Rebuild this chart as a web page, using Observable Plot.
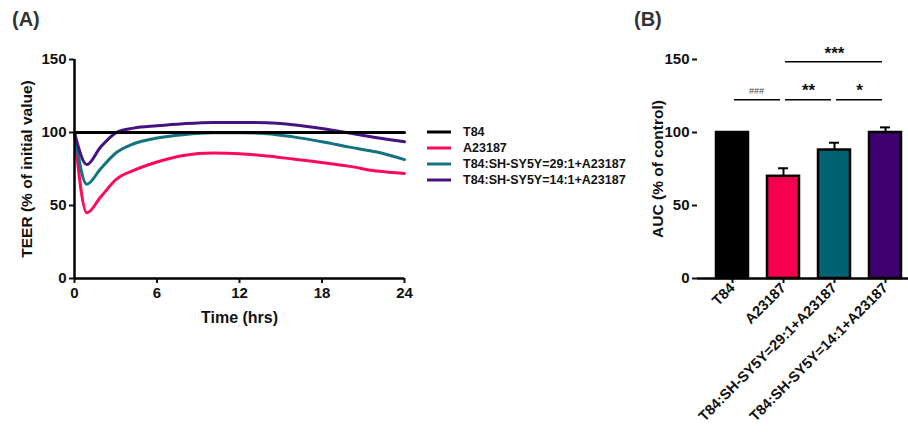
<!DOCTYPE html>
<html><head><meta charset="utf-8">
<script src="https://cdn.jsdelivr.net/npm/d3@7"></script>
<script src="https://cdn.jsdelivr.net/npm/@observablehq/plot@0.6"></script>
<style>
html,body{margin:0;padding:0;background:#fff;}
#wrap{position:relative;width:908px;height:435px;overflow:hidden;font-family:"Liberation Sans",Arial,sans-serif;}
.panel{position:absolute;font-size:20px;font-weight:bold;color:#333;}
#plotA{position:absolute;left:0;top:0;}
#plotB{position:absolute;left:600px;top:0;}
#legend{position:absolute;left:427px;top:124px;font-size:12.5px;font-weight:bold;color:#111;}
#legend div{height:16px;display:flex;align-items:center;}
#legend svg{margin-right:12px;}
</style>
</head><body>
<div id="wrap">
  <div class="panel" style="left:12px;top:8px">(A)</div>
  <div class="panel" style="left:634px;top:8px">(B)</div>
  <div id="plotA"></div>
  <div id="legend"></div>
  <div id="plotB"></div>
</div>
<script>
// ---- Panel A data ----
const seriesNames = ["T84", "A23187", "T84:SH-SY5Y=29:1+A23187", "T84:SH-SY5Y=14:1+A23187"];
const seriesColors = ["#000000", "#ff0a5a", "#137480", "#46127f"];
const time = [0, 0.9, 1.9, 3.1, 4.3, 6, 7.9, 10.1, 12, 14, 15.9, 18.1, 20, 22, 24];
const teerT84 = [100, 100, 100, 100, 100, 100, 100, 100, 100, 100, 100, 100, 100, 100, 100];
const teerA23187 = [100, 45, 55.8, 68.4, 74, 79.8, 84.3, 85.9, 85.5, 83.9, 81.8, 79.3, 76.8, 73.6, 72];
const teer29 = [100, 64.5, 75.2, 86.6, 92.3, 96.2, 98.5, 99.8, 99.8, 99.2, 97, 93.5, 90, 86.6, 81.4];
const teer14 = [100, 78, 90, 100.3, 103, 104.6, 106, 106.9, 106.9, 106.7, 105.3, 102.6, 99.6, 96.4, 93.7];
const xTicksA = [0, 6, 12, 18, 24];
const yTicks = [0, 50, 100, 150];

// ---- Panel B data ----
const groups = ["T84", "A23187", "T84:SH-SY5Y=29:1+A23187", "T84:SH-SY5Y=14:1+A23187"];
const auc = [100, 70, 88, 100];
const aucErr = [0, 5.5, 5, 3.5];
const barColors = ["#000000", "#f5004f", "#006373", "#3f0070"];
const sigFrom = ["T84", "A23187", "T84:SH-SY5Y=29:1+A23187", "A23187"];
const sigTo = ["A23187", "T84:SH-SY5Y=29:1+A23187", "T84:SH-SY5Y=14:1+A23187", "T84:SH-SY5Y=14:1+A23187"];
const sigY = [122.5, 122.5, 122.5, 148.5];
const sigLabels = ["###", "**", "*", "***"];

const font = "Liberation Sans, Arial, sans-serif";

// ---- Build panel A ----
const allSeries = [teerT84, teerA23187, teer29, teer14];
const lineData = [];
allSeries.forEach((vals, s) => vals.forEach((v, i) => lineData.push({series: seriesNames[s], t: time[i], v})));

const plotA = Plot.plot({
  width: 420, height: 340,
  marginLeft: 74, marginTop: 59, marginBottom: 62, marginRight: 16,
  style: {fontFamily: font, fontSize: "15px", fontWeight: "bold", color: "#111", background: "transparent"},
  x: {domain: [0, 24], ticks: xTicksA, label: null},
  y: {domain: [0, 150], ticks: yTicks, label: null},
  color: {domain: seriesNames, range: seriesColors},
  marks: [
    Plot.axisX({ticks: xTicksA, tickSize: 5, tickPadding: 4, strokeWidth: 2, fontSize: 15, fontWeight: "bold", label: null}),
    Plot.axisY({ticks: yTicks, tickSize: 5, tickPadding: 3, strokeWidth: 2, fontSize: 15, fontWeight: "bold", label: null}),
    Plot.line(lineData.filter(d => d.series !== "T84"), {x: "t", y: "v", stroke: "series", z: "series", strokeWidth: 3, curve: "monotone-x"}),
    Plot.line(lineData.filter(d => d.series === "T84"), {x: "t", y: "v", stroke: "series", strokeWidth: 3}),
    Plot.ruleX([0], {stroke: "#000", strokeWidth: 2.5}),
    Plot.ruleY([0], {stroke: "#000", strokeWidth: 2.5}),
    Plot.text(["Time (hrs)"], {frameAnchor: "bottom", dy: 44, fontSize: 16, fontWeight: "bold"}),
    Plot.text(["TEER (% of initial value)"], {frameAnchor: "left", dx: -47, rotate: -90, textAnchor: "middle", fontSize: 15.5, fontWeight: "bold"})
  ]
});
document.getElementById("plotA").appendChild(plotA);

// Legend
const leg = document.getElementById("legend");
seriesNames.forEach((n, i) => {
  const row = document.createElement("div");
  row.innerHTML = `<svg width="24" height="6"><line x1="0" x2="24" y1="3" y2="3" stroke="${seriesColors[i]}" stroke-width="3"/></svg><span>${n}</span>`;
  leg.appendChild(row);
});

// ---- Build panel B ----
const barData = groups.map((g, i) => ({g, v: auc[i], e: auc[i] + aucErr[i], c: barColors[i]}));
const sigData = sigLabels.map((l, i) => ({l, from: sigFrom[i], to: sigTo[i], y: sigY[i]}));

const plotB = Plot.plot({
  width: 308, height: 435,
  marginLeft: 97, marginTop: 59, marginBottom: 157, marginRight: 0,
  style: {fontFamily: font, fontSize: "15px", fontWeight: "bold", color: "#111", background: "transparent", overflow: "visible"},
  x: {type: "band", domain: groups, range: [97, 320], paddingInner: 0.37, paddingOuter: 0.37, label: null},
  y: {domain: [0, 150], ticks: yTicks, label: null},
  marks: [
    Plot.ruleX(barData.filter(d => d.e > d.v), {x: "g", y1: "v", y2: "e", stroke: "#000", strokeWidth: 2}),
    Plot.tickY(barData.filter(d => d.e > d.v), {x: "g", y: "e", stroke: "#000", strokeWidth: 2, insetLeft: 11, insetRight: 11}),
    Plot.barY(barData, {x: "g", y: "v", fill: "c", stroke: "#000", strokeWidth: 2.5}),
    Plot.axisY({ticks: yTicks, tickSize: 5, tickPadding: 3, strokeWidth: 2, fontSize: 15, fontWeight: "bold", label: null}),
    Plot.axisX({tickSize: 5, tickPadding: 2, strokeWidth: 2, fontSize: 14.5, fontWeight: "bold", tickRotate: -45, label: null}),
    Plot.ruleX([0], {x: () => null, stroke: "#000", strokeWidth: 2.5}),
    Plot.ruleY([0], {stroke: "#000", strokeWidth: 2.5}),
    Plot.ruleY(sigData, {x1: "from", x2: "to", y: "y", stroke: "#000", strokeWidth: 1.5, insetLeft: 18, insetRight: 19}),
    Plot.text(sigData.filter(d => d.l !== "***" && d.l !== "###"), {x: "from", y: "y", text: "l", dx: 25, dy: -9, fontSize: 17, fontWeight: "bold"}),
    Plot.text(sigData.filter(d => d.l === "###"), {x: "from", y: "y", text: "l", dx: 24, dy: -9, fontSize: 9, fontWeight: "normal", fill: "#444"}),
    Plot.text(sigData.filter(d => d.l === "***"), {x: "to", y: "y", text: "l", dx: -51, dy: -8, fontSize: 17, fontWeight: "bold"}),
    Plot.text(["AUC (% of control)"], {frameAnchor: "left", dx: -39, rotate: -90, textAnchor: "middle", fontSize: 15.5, fontWeight: "bold"})
  ]
});
document.getElementById("plotB").appendChild(plotB);
</script>
</body></html>
